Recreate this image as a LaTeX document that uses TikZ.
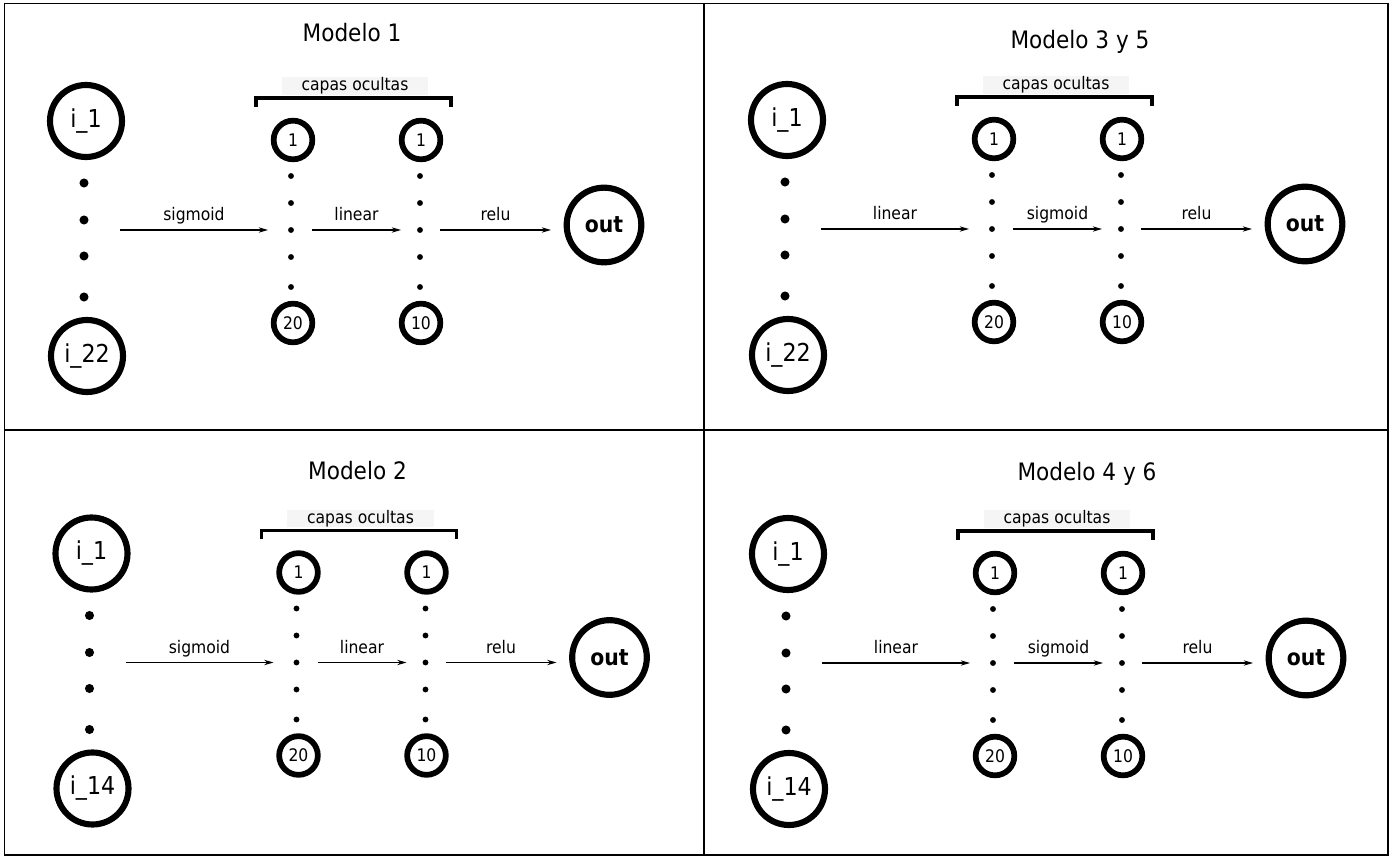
\documentclass[tikz,border=0pt]{standalone}
\usepackage{fontspec}
\setmainfont{DejaVu Sans Condensed}
\usetikzlibrary{arrows.meta}

\begin{document}
\begin{tikzpicture}[
            x=0.75pt, y=-0.75pt,
              inp/.style = {circle, draw, line width=4.6pt,% input neurons
                            minimum size=54pt, inner sep=0pt,
                            font=\fontsize{18.5}{18.5}\selectfont},
             outp/.style = {inp, minimum size=56pt,% output neuron
                            font=\fontsize{17}{17}\selectfont\bfseries},
              hid/.style = {circle, draw, line width=4.3pt,% hidden neurons
                            minimum size=29pt, inner sep=0pt,
                            font=\fontsize{13}{13}\selectfont},
              lbl/.style = {anchor=base, yshift=7pt, font=\fontsize{13}{13}\selectfont},
              arr/.style = {-{Stealth[length=7pt,width=4pt]}, line width=0.8pt},
              brk/.style = {line width=2.4pt},
              ttl/.style = {font=\fontsize{18}{18}\selectfont},
           capbox/.style = {fill=black!4, inner xsep=15pt, inner ysep=0pt,
                            minimum height=13pt, font=\fontsize{13}{13}\selectfont},
            ]
  \useasboundingbox (0,0) rectangle (1393,862);
  % frame of the four panels
  \draw[line width=1.2pt] (4.5,3.5) rectangle (1388,855)
                          (704,3.5) -- (704,855)
                          (4.5,430) -- (1388,430);
  \foreach \p/\dx/\dy/\t/\tx/\ty/\fa/\fb/\n in
          {A/0/0/Modelo 1/352/33/sigmoid/linear/22,
           B/701/-1/Modelo 3 y 5/379/43/linear/sigmoid/22,
           C/5.5/432.5/Modelo 2/352/38/sigmoid/linear/14,
           D/702/433/Modelo 4 y 6/385/41/linear/sigmoid/14}
  {
  \begin{scope}[shift={(\dx,\dy)}]
    \node[ttl] (\p-title) at (\tx,\ty) {\t};
    % input layer
    \node[inp] (\p-i1) at (86,121) {i\_1};
    \node[inp] (\p-in) at (87,356) {i\_\n};
    \foreach \y in {183,220,256,297}
      \fill (84,\y) circle (3.4pt);
    % hidden layers
    \node[hid] (\p-h1)  at (293,140) {1};
    \node[hid] (\p-h20) at (293,323) {20};
    \node[hid] (\p-g1)  at (421,140) {1};
    \node[hid] (\p-g10) at (421,323) {10};
    \foreach \x in {291,420}
      \foreach \y in {176,203,230,257,287}
        \fill (\x,\y) circle (2.2pt);
    \node[capbox] (\p-cap) at (355,86) {capas ocultas};
    \draw[brk] (256,107) -- (256,98) -- (451,98) -- (451,107);
    % output
    \node[outp] (\p-out) at (604,225) {out};
    % activations
    \coordinate (\p-a0) at (120,230);
    \coordinate (\p-a1) at (268,230);
    \coordinate (\p-a2) at (312,230);
    \coordinate (\p-a3) at (401,230);
    \coordinate (\p-a4) at (440,230);
    \coordinate (\p-a5) at (551,230);
    \draw[arr] (\p-a0) -- node[lbl] {\fa} (\p-a1);
    \draw[arr] (\p-a2) -- node[lbl] {\fb} (\p-a3);
    \draw[arr] (\p-a4) -- node[lbl] {relu} (\p-a5);
  \end{scope}
  }
\end{tikzpicture}
\end{document}
